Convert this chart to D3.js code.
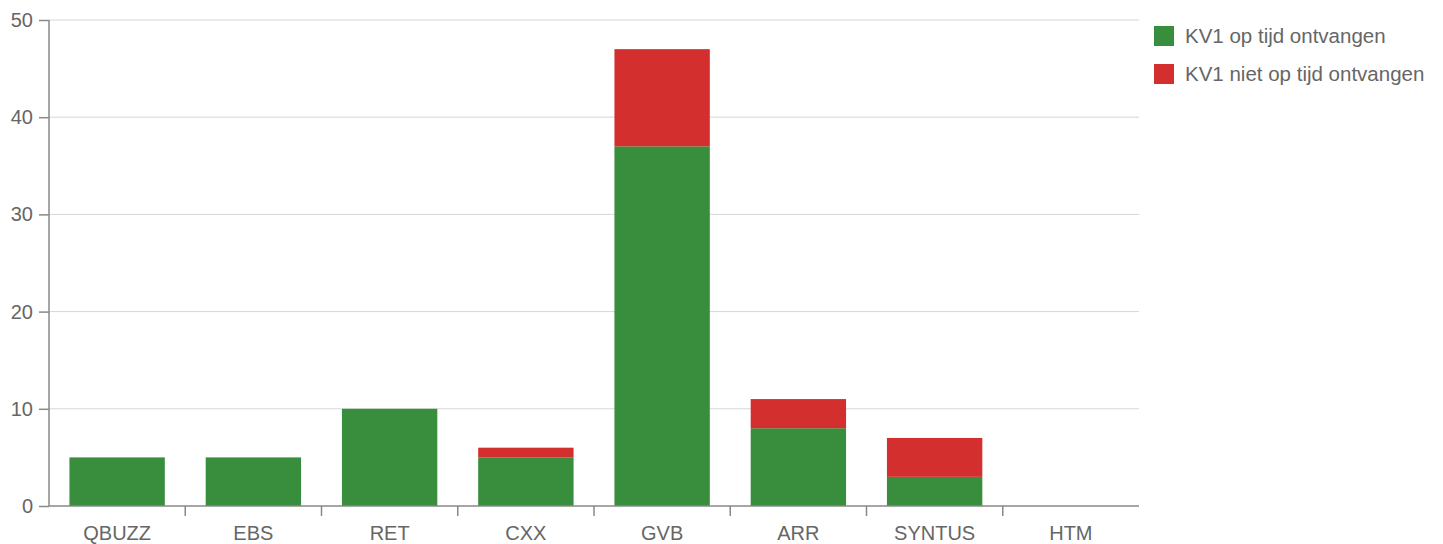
<!DOCTYPE html>
<html>
<head>
<meta charset="utf-8">
<script src="https://cdn.jsdelivr.net/npm/d3@7"></script>
<style>
  body { margin: 0; background: #fff; }
  text { font-family: "Liberation Sans", Arial, sans-serif; fill: #666; }
</style>
</head>
<body>
<div id="chart"></div>
<script>
// data
const categories = ['QBUZZ', 'EBS', 'RET', 'CXX', 'GVB', 'ARR', 'SYNTUS', 'HTM'];
const opTijd = [5, 5, 10, 5, 37, 8, 3, 0];
const nietOpTijd = [0, 0, 0, 1, 10, 3, 4, 0];
const seriesNames = ['KV1 op tijd ontvangen', 'KV1 niet op tijd ontvangen'];
const colors = ['#388e3c', '#d32f2f'];
const yTicks = [0, 10, 20, 30, 40, 50];

const width = 1443, height = 544;
const margin = { top: 20, right: 304, bottom: 38, left: 49 };
const w = width - margin.left - margin.right;
const h = height - margin.top - margin.bottom;

const svg = d3.select('#chart').append('svg')
  .attr('width', width)
  .attr('height', height);

const g = svg.append('g')
  .attr('transform', `translate(${margin.left},${margin.top})`);

const x = d3.scaleBand().domain(categories).range([0, w]).paddingInner(0.3).paddingOuter(0.15);
const y = d3.scaleLinear().domain([0, 50]).range([h, 0]);

// grid
g.selectAll('.grid').data(yTicks.filter(d => d > 0)).enter().append('line')
  .attr('x1', 0).attr('x2', w)
  .attr('y1', d => y(d)).attr('y2', d => y(d))
  .attr('stroke', '#d6d6d6').attr('stroke-width', 1);

// stacked bars
const rows = categories.map((c, i) => ({ cat: c, a: opTijd[i], b: nietOpTijd[i] }));
const stack = d3.stack().keys(['a', 'b'])(rows);

g.selectAll('.serie').data(stack).enter().append('g')
  .attr('fill', (d, i) => colors[i])
  .selectAll('rect').data(d => d).enter().append('rect')
  .attr('x', d => x(d.data.cat))
  .attr('width', x.bandwidth())
  .attr('y', d => y(d[1]))
  .attr('height', d => y(d[0]) - y(d[1]));

// y axis
const yAxis = g.append('g').call(d3.axisLeft(y).tickValues(yTicks).tickSize(10).tickPadding(6));
yAxis.select('.domain').attr('stroke', '#888').attr('stroke-width', 1.5).attr('d', `M0,0V${h}`);
yAxis.selectAll('.tick line').attr('stroke', '#888').attr('stroke-width', 1.5);
yAxis.selectAll('.tick text').style('font-size', '20px').attr('fill', '#666');

// x axis: ticks at band boundaries
const xAxis = g.append('g').attr('transform', `translate(0,${h})`);
xAxis.append('line').attr('x1', 0).attr('x2', w).attr('stroke', '#888').attr('stroke-width', 1.5);
const step = x.step();
const bounds = categories.slice(1).map(c => x(c) - step * x.paddingInner() / 2);
xAxis.selectAll('.xt').data(bounds).enter().append('line')
  .attr('x1', d => d).attr('x2', d => d)
  .attr('y1', 0).attr('y2', 10)
  .attr('stroke', '#888').attr('stroke-width', 1.5);
xAxis.selectAll('.xl').data(categories).enter().append('text')
  .attr('x', d => x(d) + x.bandwidth() / 2)
  .attr('y', 34)
  .attr('text-anchor', 'middle')
  .style('font-size', '20px')
  .text(d => d);

// legend
const legend = svg.append('g').attr('transform', 'translate(1154,26)');
const items = legend.selectAll('g').data(seriesNames).enter().append('g')
  .attr('transform', (d, i) => `translate(0,${i * 38})`);
items.append('rect').attr('width', 20).attr('height', 20).attr('fill', (d, i) => colors[i]);
items.append('text').attr('x', 31).attr('y', 17).style('font-size', '20.5px').text(d => d);
</script>
</body>
</html>
